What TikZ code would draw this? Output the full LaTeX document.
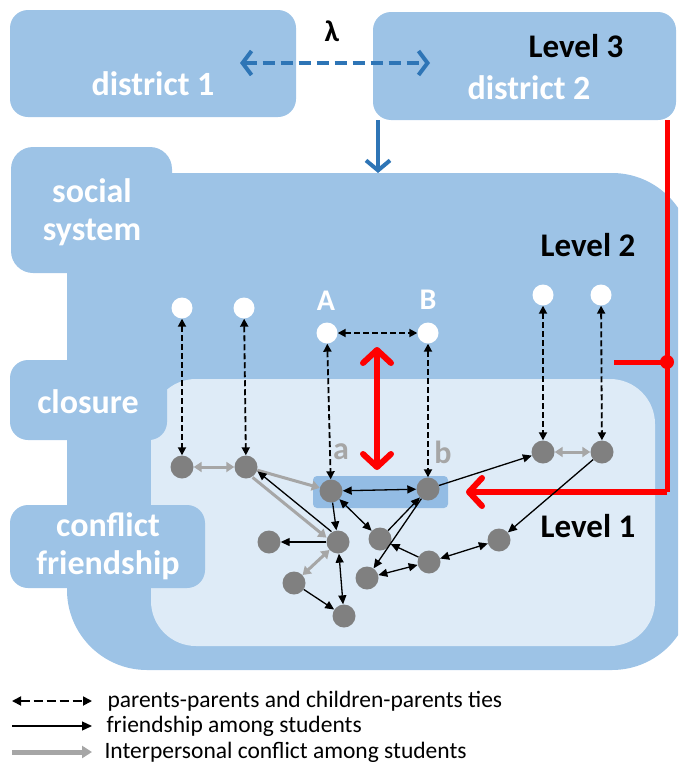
\documentclass[tikz,border=0pt]{standalone}
\usepackage{fontspec}
\setmainfont{Carlito}
\usetikzlibrary{arrows.meta}
\definecolor{midblue}{HTML}{9DC3E6}
\definecolor{paleblue}{HTML}{DEEBF7}
\definecolor{pairblue}{HTML}{93BCE4}
\definecolor{arrowblue}{HTML}{2E75B6}
\definecolor{nodegray}{HTML}{808080}
\definecolor{confgray}{HTML}{A6A6A6}

\begin{document}
\begin{tikzpicture}[x=1pt,y=-1pt,
    box/.style={fill=midblue,rounded corners=18pt},
    lab/.style={text=white,font=\fontsize{34}{38}\selectfont\bfseries,align=center},
    level/.style={font=\fontsize{33}{38}\selectfont\bfseries},
    parent/.style={circle,fill=white,inner sep=0pt,minimum size=21pt},
    student/.style={circle,fill=nodegray,inner sep=0pt,minimum size=23pt},
    ptie/.style={dashed,dash pattern=on 6pt off 3pt,line width=1.8pt,>={Triangle[length=8pt,width=8pt]}},
    friend/.style={line width=1.3pt,>={Triangle[length=9pt,width=8pt]}},
    conflict/.style={confgray,line width=3pt,>={Triangle[length=8pt,width=10pt]}},
    bigred/.style={red,line width=6pt,>={Straight Barb[length=13pt,width=28pt,round,line width=6pt]}},
    legtext/.style={anchor=west,font=\fontsize{23.5}{26}\selectfont}]
    \useasboundingbox (0,0) rectangle (678,763);
    % level 3 boxes
    \fill[box] (10,10) rectangle (296,117);
    \fill[box] (373,12) rectangle (676,120);
    % level 2 body and level 1 area
    \begin{scope}
        \clip (0,0) rectangle (678,763);
        \fill[midblue,rounded corners=80pt] (67,173) rectangle (692,670);
    \end{scope}
    \fill[paleblue,rounded corners=45pt] (151,379) rectangle (655,646);
    \fill[box,rounded corners=22pt] (11,147) rectangle (172,273);
    \fill[box] (10,360) rectangle (167,440);
    \fill[box] (10,505) rectangle (205,588);
    \fill[pairblue,rounded corners=4pt] (313,476) rectangle (448,508);

    % texts
    \node[lab] (d1) at (153,84) {district 1};
    \node[lab] (d2) at (529,88) {district 2};
    \node[level] (l3) at (576,46) {Level 3};
    \node[font=\fontsize{30}{34}\selectfont\bfseries] (lam) at (332,31) {λ};
    \node[lab] (soc) at (92,212) {social\\system};
    \node[lab] (clo) at (88,402) {closure};
    \node[lab] (cf) at (108,546) {conflict\\friendship};
    \node[level] (l2) at (588,245) {Level 2};
    \node[level] (l1) at (588,526) {Level 1};

    % blue arrows between districts
    \coordinate (dl) at (240,63);
    \coordinate (dr) at (430,63);
    \draw[arrowblue,line width=4pt,dash pattern=on 12pt off 6pt,
        {Straight Barb[length=9pt,width=24pt,line width=4pt]}-{Straight Barb[length=9pt,width=24pt,line width=4pt]}] (dl) -- (dr);
    \coordinate (dtop) at (378,120);
    \coordinate (dbot) at (378,173);
    \draw[arrowblue,line width=4pt,-{Straight Barb[length=10pt,width=24pt,line width=4pt]}] (dtop) -- (dbot);

    % red lines
    \coordinate (rtop) at (667,120);
    \coordinate (rjoin) at (667,362);
    \coordinate (rleft) at (614,362);
    \coordinate (rcorner) at (667,492);
    \coordinate (rtip) at (466,492);
    \draw[red,line width=5pt] (rtop) -- (rcorner);
    \draw[red,line width=5pt] (rleft) -- (rjoin);
    \fill[red] (rjoin) circle (7pt);
    \draw[bigred,->] (rcorner) -- (rtip);
    \coordinate (rup) at (377,347);
    \coordinate (rdown) at (377,470);
    \draw[bigred,<->] (rup) -- (rdown);

    % parents
    \node[parent] (w1) at (182,308) {};
    \node[parent] (w2) at (244,308) {};
    \node[parent] (pA) at (327,333) {};
    \node[parent] (pB) at (428,333) {};
    \node[parent] (w5) at (543,295) {};
    \node[parent] (w6) at (601,295) {};
    \node[text=white,font=\fontsize{30}{34}\selectfont\bfseries] (lA) at (326,301) {A};
    \node[text=white,font=\fontsize{30}{34}\selectfont\bfseries] (lB) at (428,300) {B};

    % students
    \node[student] (g1) at (182,467) {};
    \node[student] (g2) at (246,467) {};
    \node[student] (a) at (331,491) {};
    \node[student] (b) at (428,489) {};
    \node[student] (g5) at (543,452) {};
    \node[student] (g6) at (602,452) {};
    \node[student] (n1) at (269,542) {};
    \node[student] (n2) at (338,542) {};
    \node[student] (n3) at (380,539) {};
    \node[student] (n4) at (294,583) {};
    \node[student] (n5) at (344,616) {};
    \node[student] (n6) at (367,578) {};
    \node[student] (n7) at (429,562) {};
    \node[student] (n8) at (499,540) {};
    \node[text=confgray,font=\fontsize{32}{36}\selectfont\bfseries] (la) at (341,452) {a};
    \node[text=confgray,font=\fontsize{32}{36}\selectfont\bfseries] (lb) at (443,452) {b};

    % ties
    \foreach \u/\v in {w1/g1,w2/g2,pA/a,pB/b,w5/g5,w6/g6,pA/pB}
        \draw[ptie,<->] (\u) -- (\v);
    \foreach \u/\v in {g1/g2,g5/g6,n4/n2}
        \draw[conflict,<->] (\u) -- (\v);
    \draw[conflict,->] (g2) -- (a);
    \draw[conflict,->,transform canvas={xshift=-2.5pt,yshift=-3pt}] (g2) -- (n2);
    \draw[friend,->,transform canvas={xshift=2.5pt,yshift=3pt}] (n2) -- (g2);
    \foreach \u/\v in {a/b,a/n3,n8/n7,n7/n6,n2/n5}
        \draw[friend,<->] (\u) -- (\v);
    \foreach \u/\v in {a/n2,n3/b,b/n6,b/g5,g6/n8,n7/n3,n2/n1,n4/n5}
        \draw[friend,->] (\u) -- (\v);

    % legend
    \node[legtext] (t1) at (104,701) {parents-parents and children-parents ties};
    \node[legtext] (t2) at (103,726) {friendship among students};
    \node[legtext] (t3) at (101,752) {Interpersonal conflict among students};
    \coordinate (k1) at (12,701);
    \coordinate (k2) at (12,726);
    \coordinate (k3) at (12,752);
    \draw[ptie,<->,dash pattern=on 9pt off 4pt,>={Triangle[length=9pt,width=9pt]}] (k1) -- ([xshift=-12pt]t1.west);
    \draw[friend,->,>={Triangle[length=10pt,width=9pt]}] (k2) -- ([xshift=-11pt]t2.west);
    \draw[conflict,line width=5pt,->,>={Triangle[length=10pt,width=12pt]}] (k3) -- ([xshift=-9pt]t3.west);
\end{tikzpicture}
\end{document}
